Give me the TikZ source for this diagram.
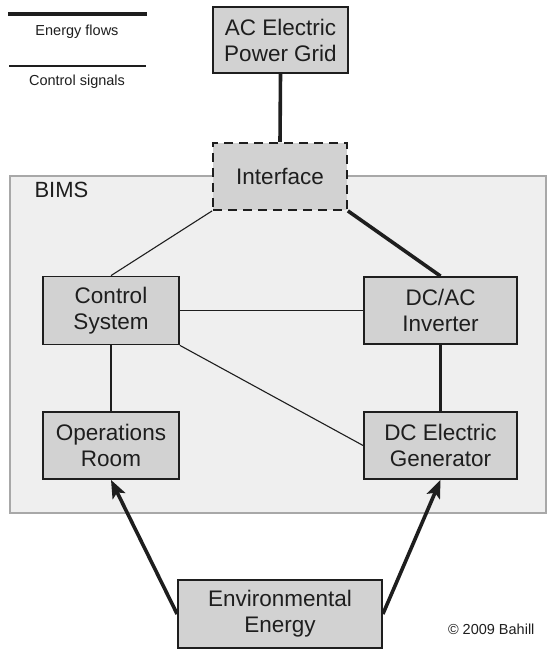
\documentclass[tikz,border=0pt]{standalone}
\usepackage{fontspec}
\setmainfont{Liberation Sans}
\usetikzlibrary{arrows.meta}
\definecolor{boxfill}{HTML}{D2D2D2}
\definecolor{bimsfill}{HTML}{EFEFEF}
\definecolor{bimsline}{HTML}{A8A8A8}
\definecolor{ink}{HTML}{1E1E1E}
\begin{document}
\begin{tikzpicture}[x=1pt,y=-1pt,
  block/.style={draw=ink,line width=1.8pt,fill=boxfill,align=center,inner sep=0pt,
    font=\fontsize{22.5}{26}\selectfont,text=ink},
  energy/.style={draw=ink,line width=3.6pt},
  signal/.style={draw=ink,line width=1.1pt},
  flowarrow/.style={energy,-{Stealth[length=18pt,width=14pt,inset=4pt]}},
  smalltext/.style={font=\fontsize{14.5}{17}\selectfont,text=ink}]
\useasboundingbox (0,0) rectangle (546,652);

% BIMS container
\path[fill=bimsfill,draw=bimsline,line width=1.2pt] (10,176) rectangle (546,513);
\node[anchor=west,font=\fontsize{22}{26}\selectfont,text=ink] (bims) at (31,190) {BIMS};

% legend
\coordinate (leA) at (8,14);
\coordinate (leB) at (147,14);
\draw[ink,line width=3.6pt] (leA) -- (leB);
\node[smalltext] (legE) at (77,32) {Energy flows};
\coordinate (lsA) at (9,66);
\coordinate (lsB) at (146,66);
\draw[ink,line width=1.1pt] (lsA) -- (lsB);
\node[smalltext] (legS) at (77,82) {Control signals};

% blocks
\node[block,minimum width=135pt,minimum height=66pt] (grid) at (280.5,40) {AC Electric\\Power Grid};
\node[block,dashed,dash pattern=on 9pt off 6pt,minimum width=134pt,minimum height=67pt] (iface) at (280,176.5) {Interface};
\node[block,minimum width=136pt,minimum height=68pt] (ctrl) at (111,310.5) {Control\\System};
\node[block,minimum width=153pt,minimum height=67pt] (inv) at (440.5,310.5) {DC/AC\\Inverter};
\node[block,minimum width=136pt,minimum height=67pt] (ops) at (111,445.5) {Operations\\Room};
\node[block,minimum width=153pt,minimum height=67pt] (gen) at (440.5,445.5) {DC Electric\\Generator};
\node[block,minimum width=204pt,minimum height=68pt] (env) at (280,614) {Environmental\\Energy};

% energy flows
\draw[energy] (grid.south) -- (iface.north);
\draw[energy] (iface.south east) -- (inv.north);
\draw[energy] (inv.south) -- (gen.north);
\draw[flowarrow] (env.west) -- (ops.south);
\draw[flowarrow] (env.east) -- (gen.south);

% control signals
\draw[signal] (iface.south west) -- (ctrl.north);
\draw[signal] (ctrl.east) -- (inv.west);
\draw[signal] (ctrl.south) -- (ops.north);
\draw[signal] (ctrl.south east) -- (gen.west);

% redraw interface on top of its connectors
\node[block,dashed,dash pattern=on 9pt off 6pt,minimum width=134pt,minimum height=67pt] (iface2) at (280,176.5) {Interface};

\node[smalltext,anchor=east] (copy) at (538,629) {© 2009 Bahill};
\end{tikzpicture}
\end{document}
